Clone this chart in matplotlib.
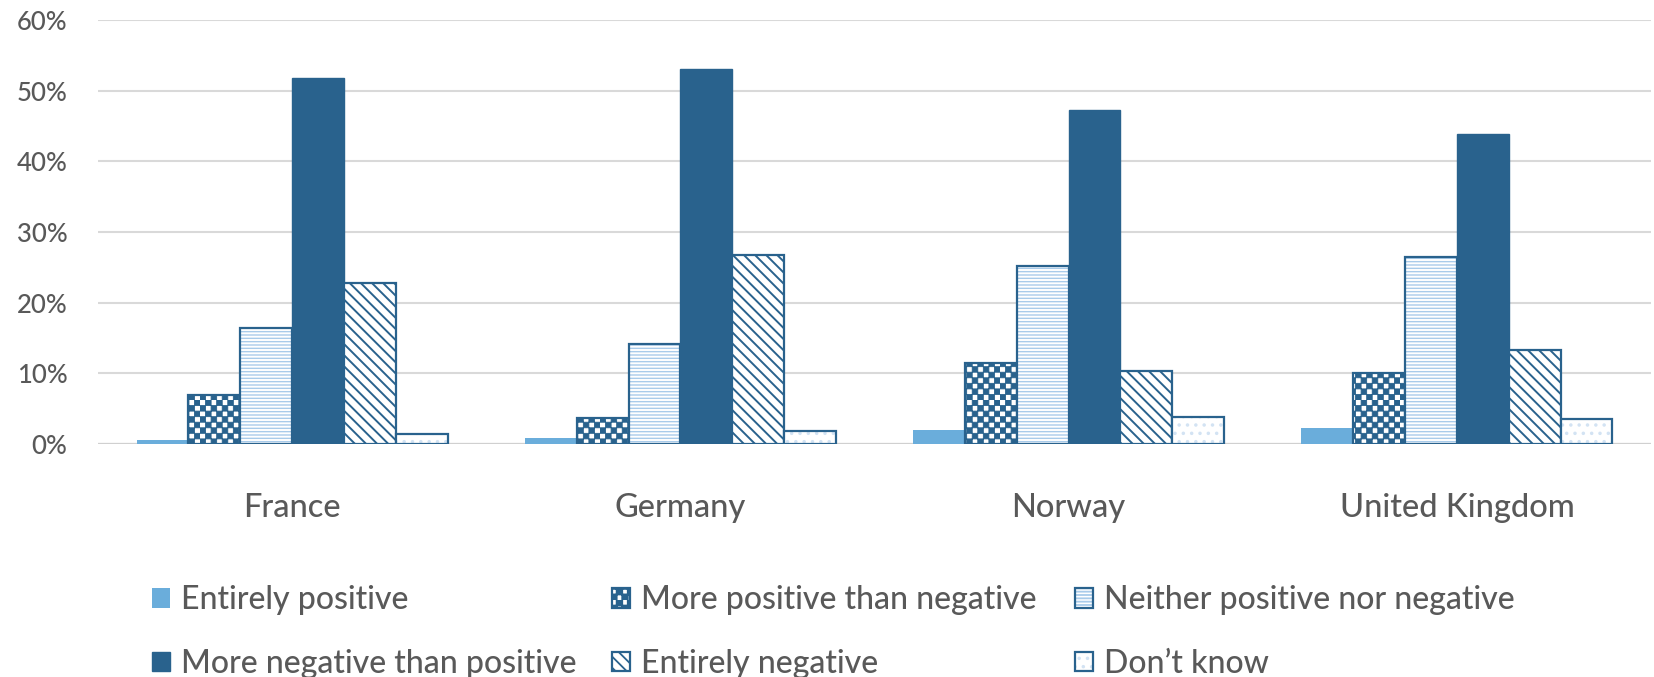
import numpy as np
import matplotlib
matplotlib.use("Agg")
import matplotlib.pyplot as plt
import matplotlib.hatch as mhatch
from matplotlib.path import Path
from matplotlib.legend_handler import HandlerTuple


# checkerboard fill, drawn for every 'O' in a hatch string
class CheckerHatch(mhatch.HatchPatternBase):
    def __init__(self, hatch, density):
        n = hatch.count("O") * density
        self.num_rows = n + (n % 2)
        self.num_vertices = (self.num_rows * self.num_rows // 2) * 5 if n else 0

    def set_vertices_and_codes(self, vertices, codes):
        s = 1.0 / self.num_rows
        k = 0
        for i in range(self.num_rows):
            for j in range(self.num_rows):
                if (i + j) % 2:
                    continue
                x0, y0 = j * s, i * s
                vertices[k:k + 5] = [(x0, y0), (x0 + s, y0), (x0 + s, y0 + s), (x0, y0 + s), (x0, y0)]
                codes[k:k + 5] = [Path.MOVETO, Path.LINETO, Path.LINETO, Path.LINETO, Path.CLOSEPOLY]
                k += 5


mhatch._hatch_types = [h for h in mhatch._hatch_types if h is not mhatch.LargeCircles] + [CheckerHatch]

countries = ["France", "Germany", "Norway", "United Kingdom"]

entirely_positive = [0.5, 0.9, 2.0, 2.2]
more_positive = [6.9, 3.7, 11.4, 10.1]
neither = [16.4, 14.2, 25.2, 26.4]
more_negative = [51.8, 53.1, 47.3, 43.9]
entirely_negative = [22.8, 26.7, 10.4, 13.3]
dont_know = [1.4, 1.8, 3.8, 3.6]

yticks = [0, 10, 20, 30, 40, 50, 60]

dark = "#29628d"
light = "#6aaddb"
pale = "#a9cbea"
grey_txt = "#595959"

plt.rcParams["font.family"] = ["Lato", "DejaVu Sans"]
plt.rcParams["font.weight"] = "medium"
plt.rcParams["hatch.linewidth"] = 1.3

fig = plt.figure(figsize=(16.54, 6.77), dpi=100)
ax = fig.add_axes([98 / 1654, 1 - 444 / 677, (1651 - 98) / 1654, 424 / 677])

x = np.arange(len(countries))
w = 0.1336
off = lambda i: (i - 2.5) * w


def hlw(bars, lw):
    for p in bars:
        if hasattr(p, "set_hatch_linewidth"):
            p.set_hatch_linewidth(lw)


b_ep = ax.bar(x + off(0), entirely_positive, w, color=light, linewidth=0, zorder=3)

b_mp = ax.bar(x + off(1), more_positive, w, color="white", edgecolor=dark,
              hatch="OOO", linewidth=1.6, zorder=3)
hlw(b_mp, 0.6)

# horizontal stripes in the pale colour, outline on top in dark blue
b_nn_fill = ax.bar(x + off(2), neither, w, color="white", edgecolor=pale,
                   hatch="-----", linewidth=0, zorder=3)
hlw(b_nn_fill, 1.0)
b_nn_edge = ax.bar(x + off(2), neither, w, color="none", edgecolor=dark, linewidth=1.6, zorder=4)

b_mn = ax.bar(x + off(3), more_negative, w, color=dark, edgecolor=dark, linewidth=1.0, zorder=3)

b_en = ax.bar(x + off(4), entirely_negative, w, color="white", edgecolor=dark,
              hatch="\\\\\\", linewidth=1.6, zorder=3)
hlw(b_en, 1.4)

b_dk_fill = ax.bar(x + off(5), dont_know, w, color="white", edgecolor="#d3e3f3",
                   hatch="..", linewidth=0, zorder=3)
b_dk_edge = ax.bar(x + off(5), dont_know, w, color="none", edgecolor=dark, linewidth=1.6, zorder=4)

ax.set_xlim(-0.5, 3.5)
ax.set_ylim(0, 60)
ax.set_yticks(yticks)
ax.set_yticklabels([f"{v}%" for v in yticks])
ax.set_xticks(x)
ax.set_xticklabels(countries)

ax.grid(axis="y", color="#d9d9d9", linewidth=1.5, zorder=0)
for s in ["top", "right", "left", "bottom"]:
    ax.spines[s].set_visible(False)
ax.axhline(0, color="#d0d0d0", linewidth=1.6, zorder=2)

ax.tick_params(axis="y", length=0, pad=22, labelsize=18.5, labelcolor=grey_txt)
ax.tick_params(axis="x", length=0, pad=35.5, labelsize=23.5, labelcolor=grey_txt)

# legend laid out as three columns of two rows
columns = [
    ([b_ep, b_mn], ["Entirely positive", "More negative than positive"], 152),
    ([b_mp, b_en], ["More positive than negative", "Entirely negative"], 612),
    ([(b_nn_fill, b_nn_edge), (b_dk_fill, b_dk_edge)], ["Neither positive nor negative", "Don\u2019t know"], 1075),
]
for handles, labels, px in columns:
    fig.legend(handles, labels, loc="center left",
               bbox_to_anchor=(px / 1654, 1 - 632 / 677),
               frameon=False, fontsize=23, labelcolor=grey_txt,
               handlelength=0.56, handleheight=0.56, handletextpad=0.35,
               labelspacing=1.06, borderpad=0, borderaxespad=0,
               handler_map={tuple: HandlerTuple(ndivide=1, pad=0)})

fig.savefig("out.png", dpi=100)
